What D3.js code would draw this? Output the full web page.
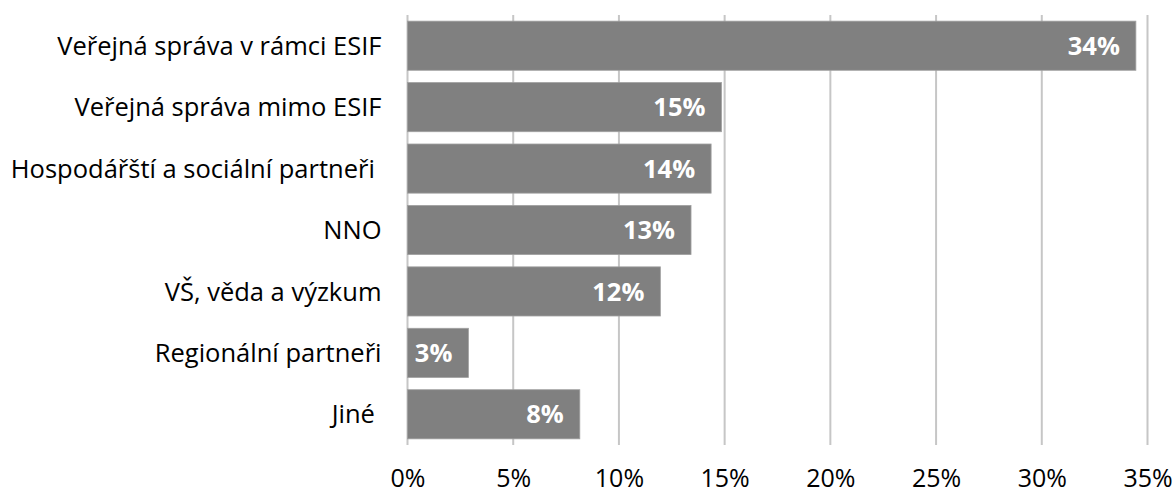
<!DOCTYPE html>
<html><head><meta charset="utf-8">
<script src="https://cdn.jsdelivr.net/npm/d3@7"></script>
<style>html,body{margin:0;padding:0;background:#fff;}svg{display:block;}</style>
</head><body>
<svg id="chart" width="1176" height="494"></svg>
<script>
const categories = ["Veřejná správa v rámci ESIF","Veřejná správa mimo ESIF","Hospodářští a sociální partneři ","NNO","VŠ, věda a výzkum","Regionální partneři","Jiné "];
const values = [34.45, 14.85, 14.36, 13.41, 11.96, 2.88, 8.15];
const valueLabels = ["34%","15%","14%","13%","12%","3%","8%"];
const tickValues = [0,5,10,15,20,25,30,35];

const svg = d3.select("#chart");
const FONT = "'Open Sans', sans-serif";
const m = {left:407.5, right:1147.5, top:15, bottom:445};

const x = d3.scaleLinear().domain([0,35]).range([m.left, m.right]);
const y = d3.scaleBand().domain(categories).range([m.top, m.bottom]).paddingInner(0.2).paddingOuter(0.1);

// gridlines
svg.append("g").selectAll("line").data(tickValues).join("line")
  .attr("x1", d=>x(d)).attr("x2", d=>x(d))
  .attr("y1", m.top).attr("y2", m.bottom)
  .attr("stroke", "#c6c6c6").attr("stroke-width", 2);

// x tick labels via axis
const xAxis = d3.axisBottom(x).tickValues(tickValues).tickFormat(d=>d+"%").tickSize(0).tickPadding(0);
const gx = svg.append("g").attr("transform", `translate(0,${m.bottom})`).call(xAxis);
gx.select(".domain").remove();
gx.selectAll("text").attr("dy", null).attr("y", 42)
  .attr("font-family", FONT).attr("font-size", 25).attr("fill", "#000");

// y category labels via axis
const yAxis = d3.axisLeft(y).tickSize(0).tickPadding(0);
const gy = svg.append("g").attr("transform", `translate(381.5,0)`).call(yAxis);
gy.select(".domain").remove();
gy.selectAll("text").attr("font-family", FONT).attr("font-size", 25.5).attr("fill", "#000")
  .attr("dy", "0.36em").style("white-space","pre").attr("xml:space","preserve");

// bars
svg.append("g").selectAll("rect").data(categories).join("rect")
  .attr("x", x(0)).attr("y", d=>y(d))
  .attr("width", (d,i)=>x(values[i]) - x(0))
  .attr("height", y.bandwidth())
  .attr("fill", "#808080").attr("stroke", "#a0a0a0").attr("stroke-width", 0.8);

// value labels
svg.append("g").selectAll("text").data(categories).join("text")
  .attr("x", (d,i)=>x(values[i]) - 16)
  .attr("y", d=>y(d) + y.bandwidth()/2)
  .attr("dy", "0.36em")
  .attr("text-anchor", "end")
  .attr("font-family", FONT).attr("font-weight", "bold").attr("font-size", 25.5)
  .attr("fill", "#fff")
  .text((d,i)=>valueLabels[i]);
</script>
</body></html>
